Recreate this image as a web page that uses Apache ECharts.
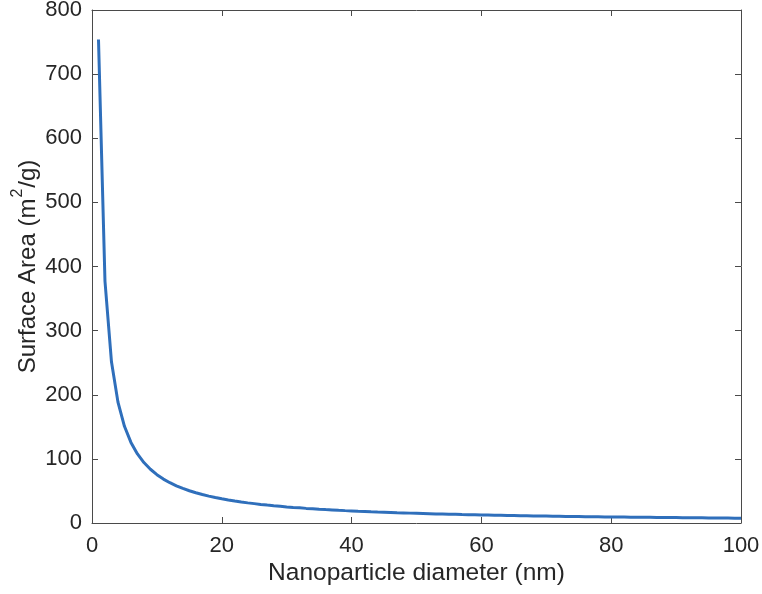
<!DOCTYPE html>
<html><head><meta charset="utf-8">
<script src="https://cdn.jsdelivr.net/npm/echarts@6/dist/echarts.min.js"></script>
<style>html,body{margin:0;padding:0;background:#fff}#c{width:762px;height:594px}</style>
</head><body><div id="c"></div>
<script>
var diameters = [1,2,3,4,5,6,7,8,9,10,11,12,13,14,15,16,17,18,19,20,21,22,23,24,25,26,27,28,29,30,31,32,33,34,35,36,37,38,39,40,41,42,43,44,45,46,47,48,49,50,51,52,53,54,55,56,57,58,59,60,61,62,63,64,65,66,67,68,69,70,71,72,73,74,75,76,77,78,79,80,81,82,83,84,85,86,87,88,89,90,91,92,93,94,95,96,97,98,99,100];
var surfaceArea = [754,377,251.3,188.5,150.8,125.7,107.7,94.3,83.8,75.4,68.5,62.8,58.0,53.9,50.3,47.1,44.4,41.9,39.7,37.7,35.9,34.3,32.8,31.4,30.2,29.0,27.9,26.9,26.0,25.1,24.3,23.6,22.8,22.2,21.5,20.9,20.4,19.8,19.3,18.9,18.4,18.0,17.5,17.1,16.8,16.4,16.0,15.7,15.4,15.1,14.8,14.5,14.2,14.0,13.7,13.5,13.2,13.0,12.8,12.6,12.4,12.2,12.0,11.8,11.6,11.4,11.3,11.1,10.9,10.8,10.6,10.5,10.3,10.2,10.1,9.9,9.8,9.7,9.5,9.4,9.3,9.2,9.1,9.0,8.9,8.8,8.7,8.6,8.5,8.4,8.3,8.2,8.1,8.0,7.9,7.9,7.8,7.7,7.6,7.5];
var xTitle = 'Nanoparticle diameter (nm)';
var yTitleParts = ['Surface Area (m', '2', '/g)'];

var chart = echarts.init(document.getElementById('c'), null, {renderer:'canvas'});
var font = '"Liberation Sans", Arial, Helvetica, sans-serif';
var axisCol = '#4a4a4a', txtCol = '#262626';
var pts = diameters.map(function(d,i){return [d, surfaceArea[i]];});
function ax(extra){
  var base = {
    axisLine:{show:true, onZero:false, lineStyle:{color:axisCol, width:1}},
    axisTick:{show:true, inside:true, length:6, lineStyle:{color:axisCol}},
    splitLine:{show:false},
    axisLabel:{color:txtCol, fontFamily:font, fontSize:22},
    nameMoveOverlap:false,
    type:'value'
  };
  return Object.assign(base, extra);
}
chart.setOption({
  animation:false,
  backgroundColor:'#fff',
  grid:{left:92, right:21, top:10, bottom:71, containLabel:false, outerBoundsMode:'none'},
  xAxis:[
    ax({min:0,max:100,interval:20,position:'bottom',
       axisLabel:{color:txtCol,fontFamily:font,fontSize:22,margin:12},
       name:xTitle,nameLocation:'middle',nameGap:38,
       nameTextStyle:{color:txtCol,fontFamily:font,fontSize:24.5}}),
    ax({min:0,max:100,interval:20,position:'top',axisLabel:{show:false}})
  ],
  yAxis:[
    ax({min:0,max:800,interval:100,position:'left',
       axisLabel:{color:txtCol,fontFamily:font,fontSize:22,margin:10},
       name:'{a|'+yTitleParts[0]+'}{s|'+yTitleParts[1]+'}{a|'+yTitleParts[2]+'}',
       nameLocation:'middle',nameGap:52,nameRotate:90,
       nameTextStyle:{color:txtCol,fontFamily:font,fontSize:24,
         rich:{a:{color:txtCol,fontFamily:font,fontSize:24,lineHeight:30,verticalAlign:'bottom'},
               s:{color:txtCol,fontFamily:font,fontSize:16,lineHeight:16,verticalAlign:'top',padding:[0,1,0,1]}}}}),
    ax({min:0,max:800,interval:100,position:'right',axisLabel:{show:false}})
  ],
  series:[{
    type:'line', data:pts, xAxisIndex:0, yAxisIndex:0,
    showSymbol:false, symbol:'none',
    lineStyle:{color:'#2f6fbb', width:3}, smooth:false
  }]
});
</script></body></html>
